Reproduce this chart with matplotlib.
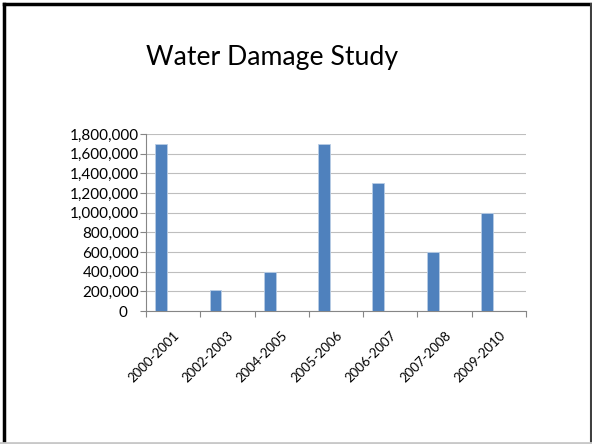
import matplotlib
matplotlib.use("Agg")
import matplotlib.pyplot as plt
from matplotlib.ticker import FuncFormatter, MultipleLocator, FixedLocator
import numpy as np

categories = ["2000-2001", "2002-2003", "2004-2005", "2005-2006", "2006-2007", "2007-2008", "2009-2010"]
values = [1700000, 210000, 400000, 1700000, 1300000, 600000, 1000000]
title = "Water Damage Study"

plt.rcParams['font.family'] = ['Lato', 'DejaVu Sans']

fig = plt.figure(figsize=(5.92, 4.44), dpi=100)
fig.patch.set_facecolor("white")

# slide border
def fline(xs, ys, color, lw):
    fig.add_artist(plt.Line2D(xs, ys, transform=fig.transFigure, color=color, linewidth=lw,
                              solid_capstyle="projecting"))

fline([0.006, 0.006], [0.003, 0.991], "#000000", 2.5)
fline([0.006, 0.998], [0.991, 0.991], "#000000", 2.5)
fline([0.998, 0.998], [0.003, 0.991], "#404040", 1.5)
fline([0.0, 1.0], [0.002, 0.002], "#c8c8c8", 2)

fig.text(0.459, 0.87, title, ha="center", va="center", fontsize=19.2, color="black")

ax = fig.add_axes([0.2466, 0.2995, 0.6419, 0.3985])
x = np.arange(len(categories))
ax.bar(x - 0.22, values, width=0.22, color="#4F81BD", edgecolor="#B9CDE5", linewidth=0.6, zorder=3)

ax.set_xlim(-0.5, len(categories) - 0.5)
ax.set_ylim(0, 1800000)
ax.yaxis.set_major_locator(MultipleLocator(200000))
ax.yaxis.set_major_formatter(FuncFormatter(lambda v, p: f"{int(v):,}" if v != 0 else "0   "))
ax.grid(axis="y", color="#BEBEBE", linewidth=0.8, zorder=0)
ax.set_axisbelow(True)

ax.set_xticks(x)
ax.set_xticklabels(categories, rotation=45, ha="right", va="top", rotation_mode="anchor", fontsize=9.5)
ax.tick_params(axis="x", which="major", length=0, pad=13)
ax.xaxis.set_minor_locator(FixedLocator(np.arange(-0.5, len(categories), 1.0)))
ax.tick_params(axis="x", which="minor", length=4, color="#868686", width=0.8)
ax.tick_params(axis="y", length=4, color="#868686", width=0.8, labelsize=11, pad=1)

for s in ["top", "right"]:
    ax.spines[s].set_visible(False)
for s in ["left", "bottom"]:
    ax.spines[s].set_color("#868686")
    ax.spines[s].set_linewidth(0.8)

fig.savefig("out.png", dpi=100)
